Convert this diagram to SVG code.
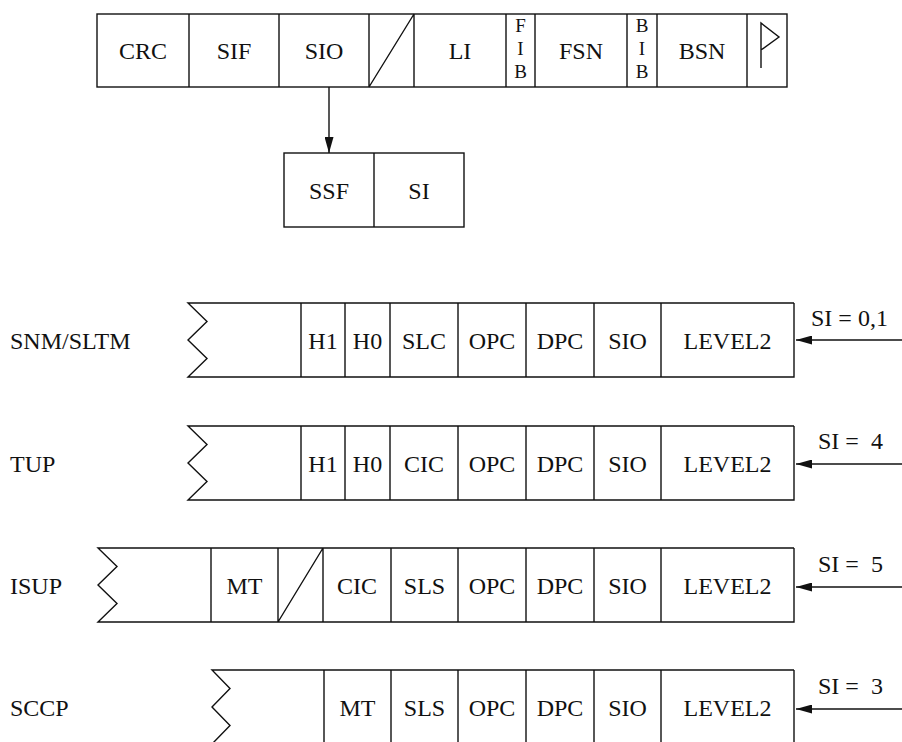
<svg xmlns="http://www.w3.org/2000/svg" width="902" height="742" viewBox="0 0 902 742">
<style>
.b{fill:none;stroke:#111;stroke-width:1.4}
.t{font-family:'Liberation Serif','DejaVu Serif','Times New Roman',serif;font-size:24px;fill:#111;text-anchor:middle}
.s{font-family:'Liberation Serif','DejaVu Serif','Times New Roman',serif;font-size:19px;fill:#111;text-anchor:middle}
.l{font-family:'Liberation Serif','DejaVu Serif','Times New Roman',serif;font-size:24px;fill:#111;text-anchor:start}
.c{stroke:#111;stroke-width:1.4;fill:none}
</style>
<defs>
<marker id="ah" viewBox="0 0 16 9" markerWidth="16" markerHeight="9" markerUnits="userSpaceOnUse" refX="16" refY="4.5" orient="auto">
<path d="M0,0 L16,4.5 L0,9 z" fill="#111"/>
</marker>
</defs>
<rect width="902" height="742" fill="#fff"/>

<g id="msu">
<rect class="b" x="97" y="14" width="690" height="73"/>
<path class="b" d="M189,14V87M279,14V87M369,14V87M414,14V87M506,14V87M535,14V87M627,14V87M657,14V87M747,14V87M369,87L414,14"/>
<text class="t" x="143" y="59">CRC</text>
<text class="t" x="234" y="59">SIF</text>
<text class="t" x="324" y="59">SIO</text>
<text class="t" x="460" y="59">LI</text>
<text class="s" x="520.5" y="32">F</text>
<text class="s" x="520.5" y="55">I</text>
<text class="s" x="520.5" y="78">B</text>
<text class="t" x="581" y="59">FSN</text>
<text class="s" x="642" y="32">B</text>
<text class="s" x="642" y="55">I</text>
<text class="s" x="642" y="78">B</text>
<text class="t" x="702" y="59">BSN</text>
<path class="b" d="M761,68V23L779,37L761,50"/>
</g>

<g id="sio">
<rect class="b" x="284" y="153" width="180" height="74"/>
<path class="b" d="M374,153V227"/>
<text class="t" x="329" y="199">SSF</text>
<text class="t" x="419" y="199">SI</text>
</g>

<g id="snm">
<text class="l" x="10" y="349">SNM/SLTM</text>
<path class="b" d="M794,303H188L207,321.5L188,340L207,358.5L188,377H794V303M301,303V377M345,303V377M390,303V377M458,303V377M526,303V377M594,303V377M661,303V377"/>
<text class="t" x="323" y="349">H1</text>
<text class="t" x="367.5" y="349">H0</text>
<text class="t" x="424" y="349">SLC</text>
<text class="t" x="492" y="349">OPC</text>
<text class="t" x="560" y="349">DPC</text>
<text class="t" x="627.5" y="349">SIO</text>
<text class="t" x="727.5" y="349">LEVEL2</text>
<text class="l" x="811" y="326">SI = 0,1</text>
</g>

<g id="tup">
<text class="l" x="10" y="472">TUP</text>
<path class="b" d="M794,426H188L207,444.5L188,463L207,481.5L188,500H794V426M301,426V500M345,426V500M390,426V500M458,426V500M526,426V500M594,426V500M661,426V500"/>
<text class="t" x="323" y="472">H1</text>
<text class="t" x="367.5" y="472">H0</text>
<text class="t" x="424" y="472">CIC</text>
<text class="t" x="492" y="472">OPC</text>
<text class="t" x="560" y="472">DPC</text>
<text class="t" x="627.5" y="472">SIO</text>
<text class="t" x="727.5" y="472">LEVEL2</text>
<text class="l" x="818" y="449" xml:space="preserve">SI =  4</text>
</g>

<g id="isup">
<text class="l" x="10" y="594">ISUP</text>
<path class="b" d="M794,548H98L117,566.5L98,585L117,603.5L98,622H794V548M211,548V622M278,548V622M323,548V622M391,548V622M458,548V622M526,548V622M594,548V622M661,548V622M278,622L323,548"/>
<text class="t" x="244.5" y="594">MT</text>
<text class="t" x="357" y="594">CIC</text>
<text class="t" x="424.5" y="594">SLS</text>
<text class="t" x="492" y="594">OPC</text>
<text class="t" x="560" y="594">DPC</text>
<text class="t" x="627.5" y="594">SIO</text>
<text class="t" x="727.5" y="594">LEVEL2</text>
<text class="l" x="818" y="572" xml:space="preserve">SI =  5</text>
</g>

<g id="sccp">
<text class="l" x="10" y="716">SCCP</text>
<path class="b" d="M794,670H212L230,688.5L212,707L230,725.5L212,744H794V670M324,670V744M391,670V744M458,670V744M526,670V744M594,670V744M661,670V744"/>
<text class="t" x="357.5" y="716">MT</text>
<text class="t" x="424.5" y="716">SLS</text>
<text class="t" x="492" y="716">OPC</text>
<text class="t" x="560" y="716">DPC</text>
<text class="t" x="627.5" y="716">SIO</text>
<text class="t" x="727.5" y="716">LEVEL2</text>
<text class="l" x="818" y="694" xml:space="preserve">SI =  3</text>
</g>

<g id="connectors">
<line class="c" x1="329" y1="87" x2="329" y2="153" marker-end="url(#ah)"/>
<line class="c" x1="902" y1="340" x2="796" y2="340" marker-end="url(#ah)"/>
<line class="c" x1="902" y1="464" x2="796" y2="464" marker-end="url(#ah)"/>
<line class="c" x1="902" y1="587" x2="796" y2="587" marker-end="url(#ah)"/>
<line class="c" x1="902" y1="709" x2="796" y2="709" marker-end="url(#ah)"/>
</g>
</svg>
